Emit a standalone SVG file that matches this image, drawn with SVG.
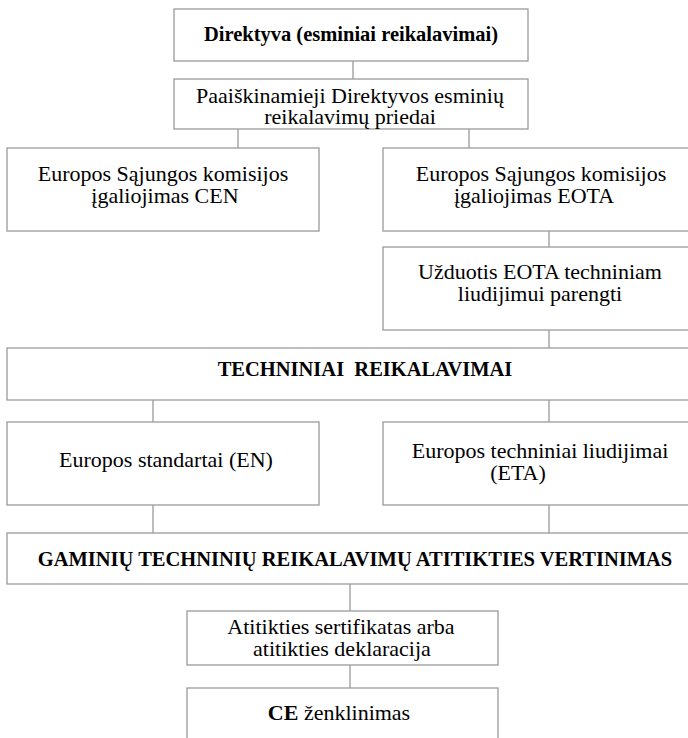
<svg xmlns="http://www.w3.org/2000/svg" width="688" height="738" viewBox="0 0 688 738">
<style>
.box{fill:#fff;stroke:#9a9a9a;stroke-width:1.3}
.t{font-family:"Liberation Serif","Times New Roman",serif;font-size:22px;fill:#000;text-anchor:middle}
.b{font-weight:bold;font-size:20.5px}
.conn line{stroke:#9a9a9a;stroke-width:1.3}
</style>
<rect width="688" height="738" fill="#fff"/>
<g class="conn">
<line x1="353" y1="61" x2="353" y2="79"/>
<line x1="238" y1="129" x2="238" y2="148"/>
<line x1="469" y1="129" x2="469" y2="148"/>
<line x1="549" y1="231" x2="549" y2="247"/>
<line x1="549" y1="330" x2="549" y2="348"/>
<line x1="153" y1="400" x2="153" y2="422"/>
<line x1="549" y1="400" x2="549" y2="422"/>
<line x1="153" y1="505" x2="153" y2="533"/>
<line x1="549" y1="505" x2="549" y2="533"/>
<line x1="350" y1="584" x2="350" y2="611"/>
<line x1="350" y1="665" x2="350" y2="688"/>
</g>
<g id="directive">
<rect class="box" x="174" y="9" width="354" height="52"/>
<text class="t b" x="351" y="41" font-size="21">Direktyva (esminiai reikalavimai)</text>
</g>
<g id="annexes">
<rect class="box" x="174" y="79" width="354" height="50"/>
<text class="t" x="350" y="103">Paaiškinamieji Direktyvos esminių</text>
<text class="t" x="350" y="124">reikalavimų priedai</text>
</g>
<g id="cen">
<rect class="box" x="7" y="148" width="312" height="83"/>
<text class="t" x="163" y="181">Europos Sąjungos komisijos</text>
<text class="t" x="165" y="203">įgaliojimas CEN</text>
</g>
<g id="eota">
<rect class="box" x="383" y="148" width="320" height="83"/>
<text class="t" x="541" y="181">Europos Sąjungos komisijos</text>
<text class="t" x="534" y="203">įgaliojimas EOTA</text>
</g>
<g id="task">
<rect class="box" x="383" y="247" width="320" height="83"/>
<text class="t" x="540" y="279">Užduotis EOTA techniniam</text>
<text class="t" x="540" y="301">liudijimui parengti</text>
</g>
<g id="tech">
<rect class="box" x="7" y="348" width="696" height="52"/>
<text class="t b" x="365" y="376" xml:space="preserve">TECHNINIAI  REIKALAVIMAI</text>
</g>
<g id="en">
<rect class="box" x="7" y="422" width="312" height="83"/>
<text class="t" x="166" y="467">Europos standartai (EN)</text>
</g>
<g id="eta">
<rect class="box" x="383" y="422" width="320" height="83"/>
<text class="t" x="540" y="458">Europos techniniai liudijimai</text>
<text class="t" x="518" y="480">(ETA)</text>
</g>
<g id="assessment">
<rect class="box" x="7" y="533" width="696" height="51"/>
<text class="t b" x="355" y="566">GAMINIŲ TECHNINIŲ REIKALAVIMŲ ATITIKTIES VERTINIMAS</text>
</g>
<g id="certificate">
<rect class="box" x="187" y="611" width="311" height="54"/>
<text class="t" x="341" y="634">Atitikties sertifikatas arba</text>
<text class="t" x="342" y="656">atitikties deklaracija</text>
</g>
<g id="ce">
<rect class="box" x="187" y="688" width="311" height="60"/>
<text class="t" x="339" y="720"><tspan font-weight="bold">CE</tspan> ženklinimas</text>
</g>
</svg>
